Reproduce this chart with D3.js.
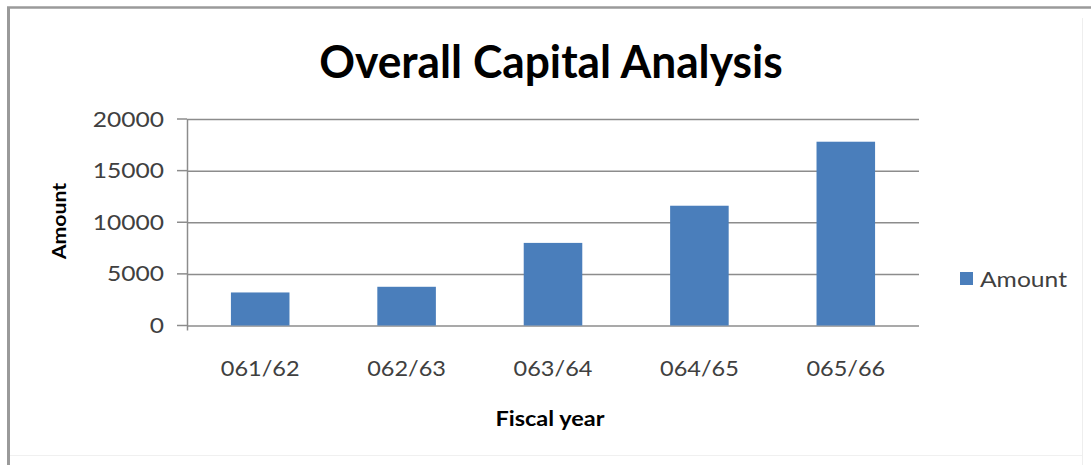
<!DOCTYPE html>
<html>
<head>
<meta charset="utf-8">
<script src="https://cdn.jsdelivr.net/npm/d3@7"></script>
<style>
  html, body { margin: 0; padding: 0; background: #ffffff; }
  svg { display: block; }
  text { font-family: Lato, "Open Sans", sans-serif; }
</style>
</head>
<body>
<svg id="chart" width="1091" height="465"></svg>
<script>
// Capital amount per fiscal year
const categories = ["061/62", "062/63", "063/64", "064/65", "065/66"];
const amounts = [3200, 3750, 8000, 11600, 17800];
const yTicks = [0, 5000, 10000, 15000, 20000];
const seriesName = "Amount";

const W = 1091, H = 465;
const plot = { left: 187, right: 919, top: 119, bottom: 325.5 };
const barColor = "#4a7ebb";
const textColor = "#404040";

const svg = d3.select("#chart");

// chart frame
svg.append("rect").attr("x", 0).attr("y", 0).attr("width", W).attr("height", H).attr("fill", "#fff");
svg.append("line").attr("x1", 8.5).attr("x2", 8.5).attr("y1", 7).attr("y2", H)
  .attr("stroke", "#9a9a9a").attr("stroke-width", 3);
svg.append("line").attr("x1", 7).attr("x2", W).attr("y1", 7.5).attr("y2", 7.5)
  .attr("stroke", "#9a9a9a").attr("stroke-width", 2.5);
svg.append("line").attr("x1", 1082.5).attr("x2", 1082.5).attr("y1", 18).attr("y2", H)
  .attr("stroke", "#eeeeee").attr("stroke-width", 1);
svg.append("line").attr("x1", 10).attr("x2", 1082).attr("y1", 455.5).attr("y2", 455.5)
  .attr("stroke", "#f0f0f0").attr("stroke-width", 1);

const x = d3.scaleBand().domain(categories).range([plot.left, plot.right])
  .paddingInner(0.6).paddingOuter(0.3);
const y = d3.scaleLinear().domain([0, 20000]).range([plot.bottom, plot.top]);

// gridlines
const yAxis = d3.axisLeft(y).tickValues(yTicks)
  .tickSize(-(plot.right - plot.left)).tickFormat("");
svg.append("g").attr("transform", `translate(${plot.left},0)`).call(yAxis)
  .call(g => g.select(".domain").remove())
  .call(g => g.selectAll(".tick line").attr("stroke", "#8c8c8c").attr("stroke-width", 1.5));
// outside tick marks
svg.append("g").selectAll("line").data(yTicks).join("line")
  .attr("x1", plot.left - 10).attr("x2", plot.left)
  .attr("y1", d => y(d)).attr("y2", d => y(d))
  .attr("stroke", "#8c8c8c").attr("stroke-width", 1.5);

// horizontally stretched label
function label(parent, tx, ty, txt, opts) {
  const g = parent.append("g")
    .attr("transform", `translate(${tx},${ty})${opts.rotate ? " rotate(-90)" : ""} scale(${opts.sx || 1},1)`);
  return g.append("text")
    .attr("text-anchor", opts.anchor || "middle")
    .attr("dy", opts.dy || null)
    .attr("font-size", opts.size)
    .attr("font-weight", opts.bold ? "bold" : null)
    .attr("fill", opts.fill || textColor)
    .text(txt);
}

// y tick labels
const yLab = svg.append("g");
yTicks.forEach(d => label(yLab, 164, y(d), d, { anchor: "end", dy: "0.36em", size: 21, sx: 1.17 }));

// vertical axis line
svg.append("line").attr("x1", plot.left + 0.5).attr("x2", plot.left + 0.5)
  .attr("y1", plot.top).attr("y2", plot.bottom + 5)
  .attr("stroke", "#8c8c8c").attr("stroke-width", 1.5);

// bars
svg.append("g").selectAll("rect").data(amounts).join("rect")
  .attr("x", (d, i) => x(categories[i]))
  .attr("width", x.bandwidth())
  .attr("y", d => y(d))
  .attr("height", d => y(0) - y(d))
  .attr("fill", barColor);

// category labels
const xLab = svg.append("g");
categories.forEach(c => label(xLab, x(c) + x.bandwidth() / 2, 376, c, { size: 21, sx: 1.12 }));

// title
label(svg, 551, 78, "Overall Capital Analysis", { size: 45, bold: true, fill: "#000", sx: 0.985 });

// axis titles
label(svg, 550, 426, "Fiscal year", { size: 21, bold: true, fill: "#000", sx: 1.12 });
label(svg, 66, 221, "Amount", { size: 19, bold: true, fill: "#000", sx: 1.12, rotate: true });

// legend
const legend = svg.append("g").attr("transform", "translate(960,272)");
legend.append("rect").attr("width", 13).attr("height", 13).attr("fill", barColor);
label(legend, 20, 7, seriesName, { anchor: "start", dy: "0.36em", size: 22, sx: 1.12 });
</script>
</body>
</html>
